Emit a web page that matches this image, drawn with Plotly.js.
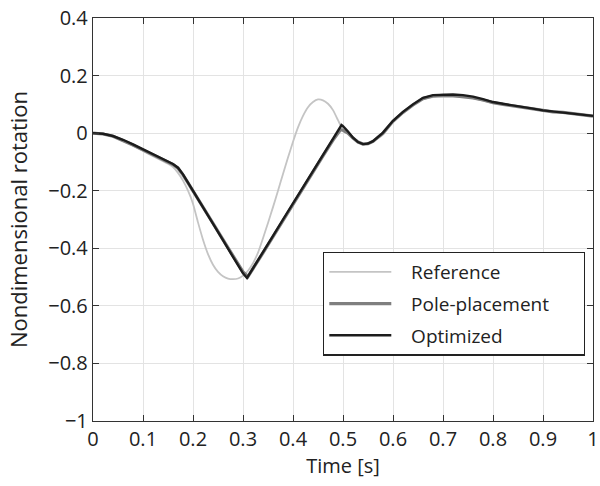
<!DOCTYPE html>
<html>
<head>
<meta charset="utf-8">
<script src="https://cdn.plot.ly/plotly-3.0.1.min.js"></script>
<style>html,body{margin:0;padding:0;background:#fff;}#chart{width:600px;height:486px;}</style>
</head>
<body>
<div id="chart"></div>
<script>
// Reference trajectory
var tRef = [0,0.02,0.04,0.06,0.08,0.10,0.12,0.14,0.15,0.16,0.17,0.18,0.19,0.20,0.21,0.22,0.23,0.24,0.25,0.26,0.27,0.28,0.29,0.30,0.31,0.32,0.33,0.34,0.35,0.36,0.37,0.38,0.39,0.40,0.41,0.42,0.43,0.44,0.45,0.46,0.47,0.48,0.49,0.50,0.51,0.52,0.53,0.54,0.55,0.56,0.58,0.60,0.62,0.64,0.66,0.68,0.70,0.72,0.74,0.76,0.78,0.80,0.82,0.84,0.86,0.88,0.90,0.92,0.94,0.96,0.98,1.0];
var yRef = [0,-0.002,-0.012,-0.027,-0.044,-0.062,-0.080,-0.097,-0.106,-0.118,-0.138,-0.165,-0.200,-0.245,-0.310,-0.370,-0.420,-0.457,-0.482,-0.497,-0.505,-0.507,-0.505,-0.495,-0.478,-0.452,-0.415,-0.365,-0.312,-0.257,-0.200,-0.142,-0.085,-0.030,0.020,0.060,0.090,0.108,0.117,0.114,0.102,0.080,0.045,0.012,-0.002,-0.018,-0.032,-0.038,-0.036,-0.028,-0.005,0.040,0.072,0.098,0.118,0.125,0.127,0.127,0.126,0.122,0.113,0.105,0.100,0.095,0.090,0.084,0.078,0.074,0.072,0.068,0.064,0.059];

// Pole-placement controller
var tPole = [0,0.02,0.04,0.06,0.08,0.10,0.12,0.14,0.16,0.17,0.18,0.19,0.20,0.22,0.24,0.26,0.28,0.30,0.31,0.32,0.34,0.36,0.38,0.40,0.42,0.44,0.46,0.48,0.495,0.50,0.51,0.52,0.53,0.54,0.55,0.56,0.57,0.58,0.60,0.62,0.64,0.66,0.68,0.70,0.72,0.74,0.76,0.78,0.80,0.82,0.84,0.86,0.88,0.90,0.92,0.94,0.96,0.98,1.0];
var yPole = [0,-0.003,-0.011,-0.025,-0.041,-0.058,-0.076,-0.093,-0.109,-0.122,-0.145,-0.173,-0.200,-0.257,-0.313,-0.370,-0.427,-0.482,-0.498,-0.472,-0.416,-0.360,-0.303,-0.247,-0.191,-0.135,-0.079,-0.024,0.012,0.010,0.000,-0.017,-0.031,-0.038,-0.037,-0.029,-0.015,0.000,0.041,0.072,0.098,0.120,0.129,0.131,0.130,0.127,0.122,0.115,0.106,0.100,0.095,0.090,0.084,0.078,0.074,0.072,0.068,0.064,0.059];

// Optimized controller
var tOpt = [0,0.02,0.04,0.06,0.08,0.10,0.12,0.14,0.16,0.17,0.18,0.19,0.20,0.22,0.24,0.26,0.28,0.30,0.308,0.32,0.34,0.36,0.38,0.40,0.42,0.44,0.46,0.48,0.497,0.50,0.51,0.52,0.53,0.54,0.55,0.56,0.57,0.58,0.60,0.62,0.64,0.66,0.68,0.70,0.72,0.74,0.76,0.78,0.80,0.82,0.84,0.86,0.88,0.90,0.92,0.94,0.96,0.98,1.0];
var yOpt = [0,-0.002,-0.010,-0.023,-0.039,-0.056,-0.074,-0.091,-0.107,-0.120,-0.143,-0.172,-0.200,-0.258,-0.315,-0.372,-0.430,-0.487,-0.503,-0.470,-0.413,-0.357,-0.300,-0.244,-0.188,-0.131,-0.075,-0.018,0.028,0.024,0.006,-0.016,-0.031,-0.038,-0.036,-0.028,-0.014,0.002,0.043,0.074,0.100,0.123,0.132,0.134,0.134,0.132,0.127,0.118,0.108,0.102,0.097,0.092,0.085,0.079,0.075,0.073,0.069,0.065,0.060];

var xTicks = [0,0.1,0.2,0.3,0.4,0.5,0.6,0.7,0.8,0.9,1];
var xTickText = ['0','0.1','0.2','0.3','0.4','0.5','0.6','0.7','0.8','0.9','1'];
var yTicks = [-1,-0.8,-0.6,-0.4,-0.2,0,0.2,0.4];
var yTickText = ['\u22121','\u22120.8','\u22120.6','\u22120.4','\u22120.2','0','0.2','0.4'];

var font = 'Open Sans, Noto Sans, sans-serif';
var lead = '\u00a0\u00a0\u00a0';
var trail = '\u00a0\u00a0\u00a0\u00a0\u00a0\u00a0';

var traces = [
  {x: tRef, y: yRef, type: 'scatter', mode: 'lines', name: lead + 'Reference', legendgroup: 'a',
   line: {color: '#c4c4c4', width: 1.8, shape: 'spline', smoothing: 0.5}},
  {x: tPole, y: yPole, type: 'scatter', mode: 'lines', name: lead + 'Pole-placement' + trail, legendgroup: 'b',
   line: {color: '#7f7f7f', width: 3.2}},
  {x: tOpt, y: yOpt, type: 'scatter', mode: 'lines', name: lead + 'Optimized', legendgroup: 'c',
   line: {color: '#1c1c1c', width: 2.4}}
];

var axisCommon = {
  showline: true, linecolor: '#333', linewidth: 1.2, mirror: 'ticks',
  ticks: 'inside', ticklen: 6, tickcolor: '#333', tickwidth: 1,
  showgrid: true, gridcolor: '#e3e3e3', gridwidth: 1, zeroline: false,
  tickfont: {family: font, size: 20, color: '#222'}
};

var layout = {
  width: 600, height: 486,
  margin: {l: 93, r: 7, t: 18, b: 65},
  paper_bgcolor: '#fff', plot_bgcolor: '#fff',
  font: {family: font, color: '#222'},
  showlegend: true,
  xaxis: Object.assign({}, axisCommon, {
    range: [0, 1], tickmode: 'array', tickvals: xTicks, ticktext: xTickText,
    title: {text: 'Time [s]', font: {family: font, size: 20, color: '#222'}, standoff: 2}
  }),
  yaxis: Object.assign({}, axisCommon, {
    range: [-1, 0.4], tickmode: 'array', tickvals: yTicks, ticktext: yTickText,
    title: {text: 'Nondimensional rotation', font: {family: font, size: 22, color: '#222'}, standoff: 14}
  }),
  legend: {
    x: 0.46, y: 0.42, xanchor: 'left', yanchor: 'top',
    bgcolor: '#fff', bordercolor: '#222', borderwidth: 1.3,
    font: {family: font, size: 19, color: '#222'},
    itemwidth: 62, tracegroupgap: 4, traceorder: 'grouped'
  }
};

Plotly.newPlot('chart', traces, layout, {displayModeBar: false, staticPlot: true});
</script>
</body>
</html>
